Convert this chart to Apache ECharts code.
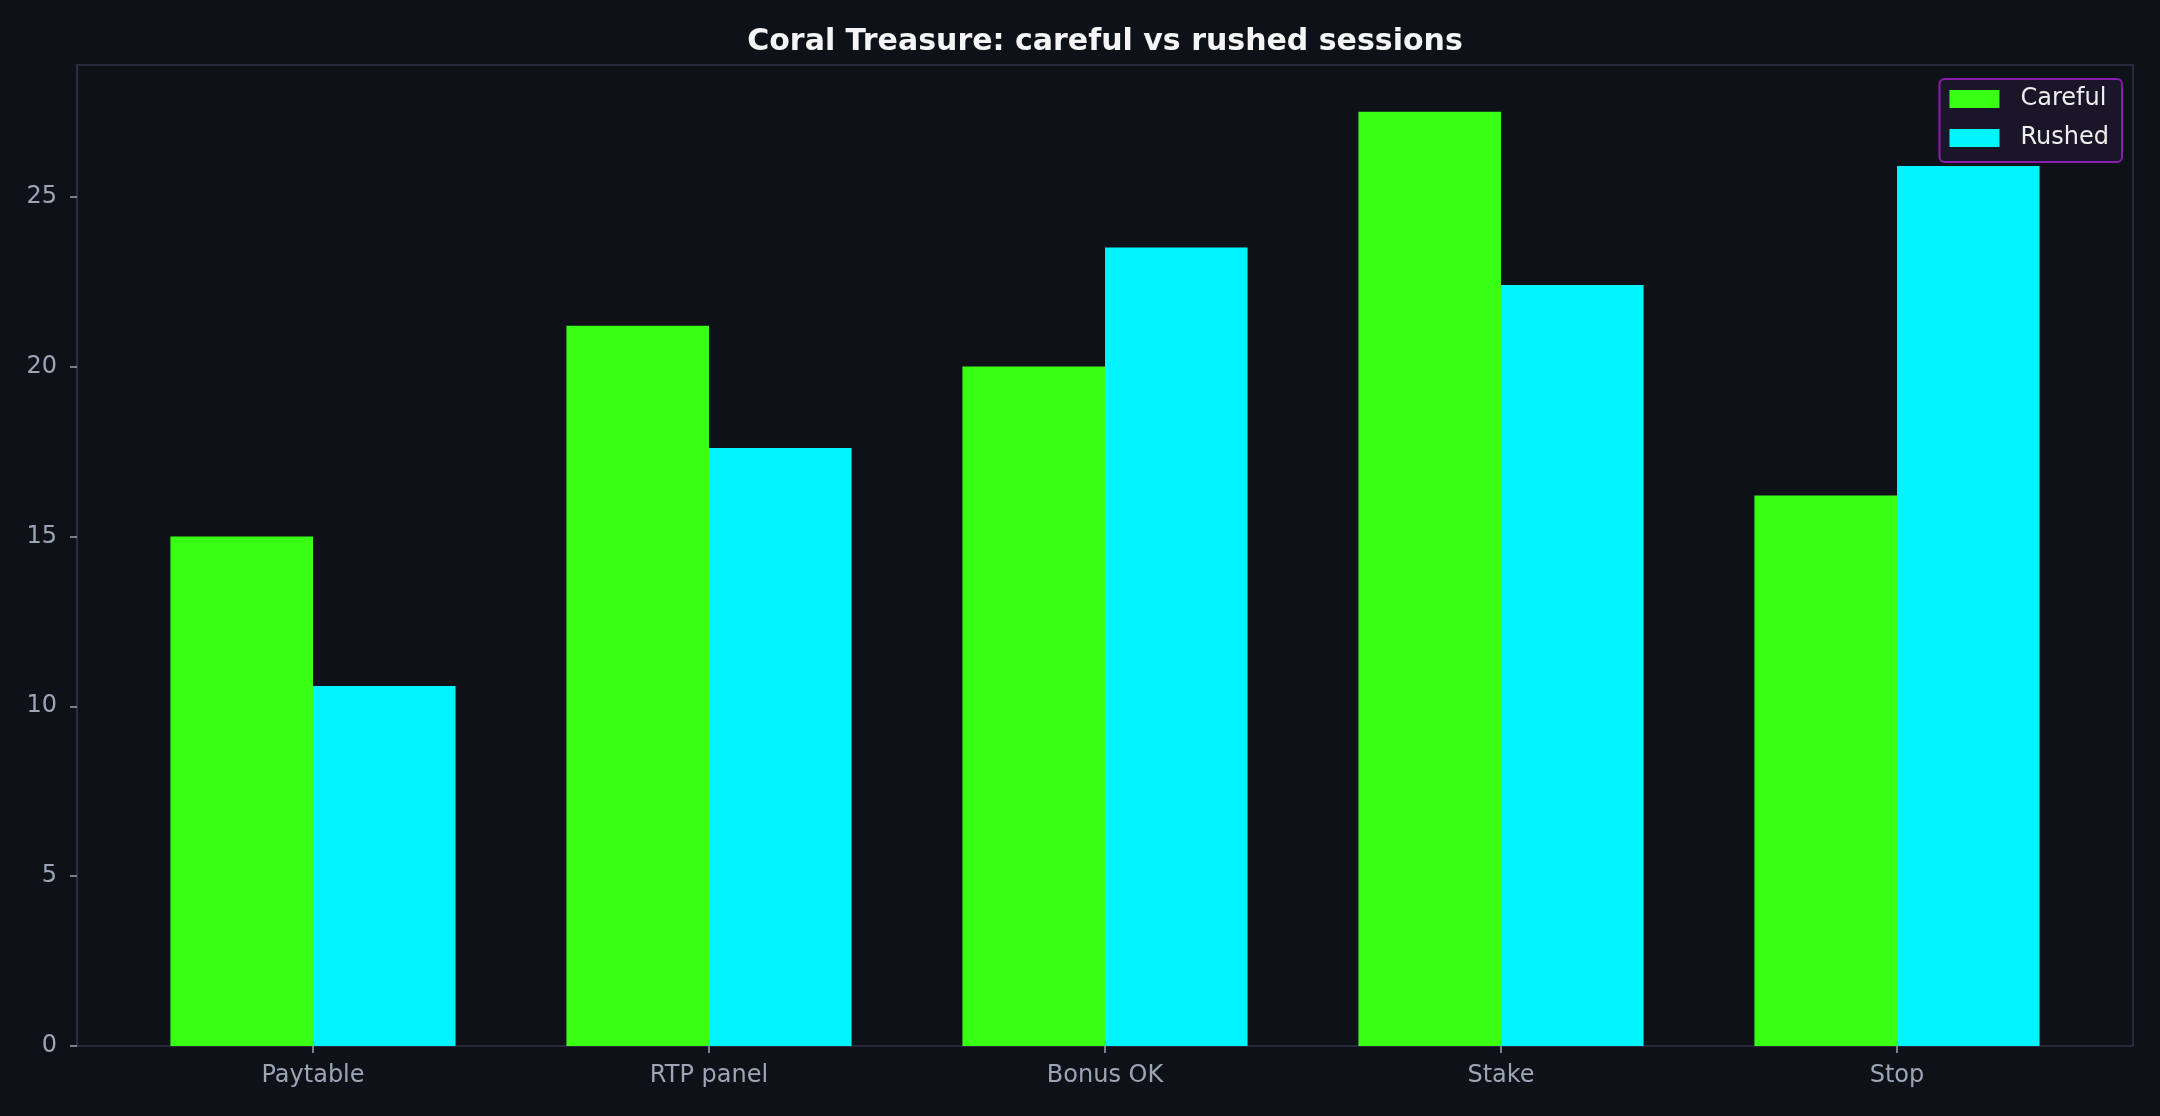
<!DOCTYPE html>
<html style="height: 100%">
<head>
    <meta charset="utf-8">
    <title>Coral Treasure</title>
</head>
<body style="margin: 0; height: 100%; background: #0e1117">
<div id="container" style="width: 2160px; height: 1116px"></div>

<script src="https://cdn.jsdelivr.net/npm/echarts@6/dist/echarts.min.js" type="text/javascript"></script>
<script type="text/javascript">

    var categories = ['Paytable', 'RTP panel', 'Bonus OK', 'Stake', 'Stop'];
    var careful = [15.0, 21.2, 20.0, 27.5, 16.2];
    var rushed = [10.6, 17.6, 23.5, 22.4, 25.9];
    var yTicks = [0, 5, 10, 15, 20, 25];
    var yMax = 28.875;

    var dom = document.getElementById("container");
    var myChart = echarts.init(dom);

    var labelColor = '#9ca4b6';
    var frameColor = '#30304a';

    var option = {
        backgroundColor: '#0e1117',
        animation: false,
        title: {
            text: 'Coral Treasure: careful vs rushed sessions',
            left: 1100,
            top: 22,
            textAlign: 'center',
            textStyle: {
                color: '#f5f5f5',
                fontFamily: 'DejaVu Sans',
                fontWeight: 'bold',
                fontSize: 30
            }
        },
        legend: {
            orient: 'vertical',
            right: 38,
            top: 79,
            padding: [8, 13, 12, 10],
            itemWidth: 50,
            itemHeight: 18,
            itemGap: 15,
            icon: 'rect',
            backgroundColor: '#1a1528',
            borderColor: '#8a1cae',
            borderWidth: 2,
            borderRadius: 5,
            textStyle: {
                color: '#eeeeee',
                fontFamily: 'DejaVu Sans',
                fontSize: 24,
                lineHeight: 24,
                padding: [0, 0, 0, 16]
            },
            data: ['Careful', 'Rushed']
        },
        grid: [
            // bars: band width matches the category spacing
            {left: 115, right: 65, top: 65, bottom: 70},
            // outer frame carrying the y axis
            {left: 77, right: 27, top: 65, bottom: 70, show: true,
                borderColor: frameColor, borderWidth: 1.5, backgroundColor: 'transparent'}
        ],
        xAxis: [
            {
                type: 'category',
                gridIndex: 0,
                data: categories,
                axisLine: {show: false},
                axisTick: {show: true, alignWithLabel: true, length: 7,
                    lineStyle: {color: labelColor, width: 1.5}},
                axisLabel: {color: labelColor, fontFamily: 'DejaVu Sans', fontSize: 24, margin: 18},
                splitLine: {show: false}
            },
            {
                type: 'value',
                gridIndex: 1,
                show: false
            }
        ],
        yAxis: [
            {
                type: 'value',
                gridIndex: 0,
                min: 0,
                max: yMax,
                show: false
            },
            {
                type: 'value',
                gridIndex: 1,
                min: 0,
                max: yMax,
                axisLine: {show: true, lineStyle: {color: frameColor, width: 1.5}},
                axisTick: {show: true, length: 7, customValues: yTicks,
                    lineStyle: {color: labelColor, width: 1.5}},
                axisLabel: {color: labelColor, fontFamily: 'DejaVu Sans', fontSize: 24, margin: 20,
                    customValues: yTicks},
                splitLine: {show: false}
            }
        ],
        series: [
            {
                name: 'Careful',
                type: 'bar',
                xAxisIndex: 0,
                yAxisIndex: 0,
                data: careful,
                barWidth: '36%',
                barGap: '0%',
                itemStyle: {color: '#39ff14'}
            },
            {
                name: 'Rushed',
                type: 'bar',
                xAxisIndex: 0,
                yAxisIndex: 0,
                data: rushed,
                barWidth: '36%',
                barGap: '0%',
                itemStyle: {color: '#00f5ff'}
            }
        ]
    };

    myChart.setOption(option);

</script>
</body>
</html>
